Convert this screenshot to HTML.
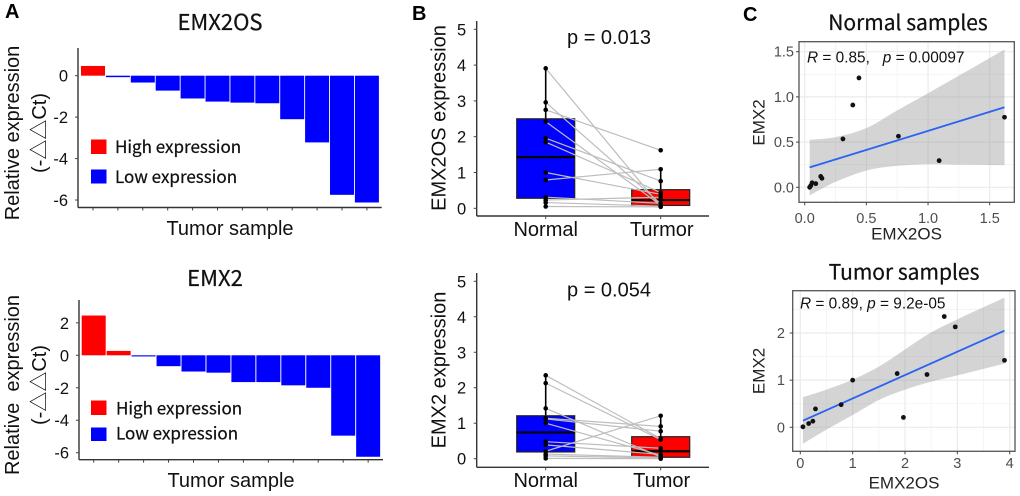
<!DOCTYPE html>
<html lang="en">
<head>
<meta charset="utf-8">
<title>EMX2OS and EMX2 expression</title>
<style>
html,body{margin:0;padding:0;background:#fff;width:1020px;height:496px;overflow:hidden}
svg{display:block;filter:blur(0.35px)}
text{font-family:"Liberation Sans","Noto Sans CJK SC",sans-serif;fill:#111}
.hd{font-family:"Noto Sans CJK SC","Liberation Sans",sans-serif;stroke:#111;stroke-width:0.25px}
.panel-letter{font-family:"Liberation Sans",sans-serif;font-weight:700;font-size:20px;fill:#000}
.title{font-size:22px;text-anchor:middle}
.leg{font-size:17px}
.lab{font-size:20px;text-anchor:middle}
.clab{font-size:17px;text-anchor:middle;fill:#222}
.ann{font-size:15.4px;fill:#111}
</style>
</head>
<body>
<svg id="fig" xmlns="http://www.w3.org/2000/svg" width="1020" height="496" viewBox="0 0 1020 496">
  <rect x="0" y="0" width="1020" height="496" fill="#fff"/>
  <g id="layer"></g>

  <text class="panel-letter" x="5" y="18">A</text>
  <text class="panel-letter" x="412" y="20">B</text>
  <text class="panel-letter" x="743" y="21">C</text>

  <text class="hd title" x="220" y="30">EMX2OS</text>
  <text class="lab" transform="translate(19,133) rotate(-90)">Relative expression</text>
  <text class="lab" transform="translate(46,133) rotate(-90)">(-△△Ct)</text>
  <text class="lab" x="230" y="235">Tumor sample</text>
  <rect x="91" y="139.5" width="15.5" height="14.5" fill="#ff0000"/>
  <rect x="91" y="169.5" width="15.5" height="14" fill="#0000ff"/>
  <text class="hd leg" x="115" y="153">High expression</text>
  <text class="hd leg" x="115" y="183">Low expression</text>

  <text class="hd title" x="215" y="286">EMX2</text>
  <text class="lab" xml:space="preserve" transform="translate(19,385) rotate(-90)">Relative  expression</text>
  <text class="lab" transform="translate(46,385) rotate(-90)">(-△△Ct)</text>
  <text class="lab" x="231" y="487">Tumor sample</text>
  <rect x="91" y="400.5" width="15.5" height="14.5" fill="#ff0000"/>
  <rect x="91" y="427.5" width="15.5" height="13.5" fill="#0000ff"/>
  <text class="hd leg" x="116" y="414.5">High expression</text>
  <text class="hd leg" x="116" y="439.5">Low expression</text>

  <text class="lab" transform="translate(445.5,118) rotate(-90)">EMX2OS expression</text>
  <text class="lab" x="609" y="44">p = 0.013</text>
  <text class="lab" transform="translate(445.5,370) rotate(-90)">EMX2 expression</text>
  <text class="lab" x="609" y="296.5">p = 0.054</text>

  <text class="hd title" x="908" y="30" style="font-size:21px">Normal samples</text>
  <text class="clab" x="906.5" y="239.5">EMX2OS</text>
  <text class="clab" transform="translate(764.5,122.5) rotate(-90)">EMX2</text>
  <text class="ann" x="807" y="62.5" xml:space="preserve"><tspan font-style="italic">R</tspan> = 0.85,   <tspan font-style="italic">p</tspan> = 0.00097</text>

  <text class="hd title" x="904" y="279.5" style="font-size:21px">Tumor samples</text>
  <text class="clab" x="904" y="488.5">EMX2OS</text>
  <text class="clab" transform="translate(764.5,371) rotate(-90)">EMX2</text>
  <text class="ann" x="800" y="308.5"><tspan font-style="italic">R</tspan> = 0.89, <tspan font-style="italic">p</tspan> = 9.2e-05</text>
</svg>

<script>
// ---- Panel A: waterfall values
const emx2osBarValues = [0.47, -0.07, -0.33, -0.72, -1.1, -1.25, -1.3, -1.33, -2.1, -3.22, -5.75, -6.12];
const emx2BarValues = [2.45, 0.27, -0.07, -0.67, -1.0, -1.07, -1.65, -1.65, -1.85, -2.0, -4.95, -6.25];
const emx2osBarTicks = [0, -2, -4, -6];
const emx2BarTicks = [2, 0, -2, -4, -6];

// ---- Panel B: paired box plots
const emx2osNormal = [3.91, 2.96, 2.75, 2.42, 1.96, 1.85, 1.0, 0.79, 0.31, 0.23, 0.16, 0.05];
const emx2osTumor = [0.05, 0.13, 1.62, 0.09, 0.76, 0.44, 0.39, 1.09, 0.14, 0.31, 0.06, 0.04];
const emx2Normal = [2.35, 2.13, 1.42, 1.14, 1.12, 1.0, 0.48, 0.39, 0.21, 0.13, 0.08, 0.01];
const emx2Tumor = [0.565, 0.535, 0.05, 0.91, 0.775, 0.1, 0.295, 0.12, 1.21, 0.04, 0.02, 0.0];
const emx2osNormalBox = [0.28, 1.43, 2.5];
const emx2osTumorBox = [0.08, 0.23, 0.52];
const emx2NormalBox = [0.19, 0.74, 1.21];
const emx2TumorBox = [0.04, 0.21, 0.62];
const boxTicks = [0, 1, 2, 3, 4, 5];
const emx2osBoxCategories = ["Normal", "Turmor"];
const emx2BoxCategories = ["Normal", "Tumor"];

// ---- Panel C: normal samples scatter
const normalX = [0.04, 0.05, 0.06, 0.09, 0.13, 0.14, 0.31, 0.39, 0.44, 0.76, 1.09, 1.62];
const normalY = [0.0, 0.02, 0.05, 0.04, 0.12, 0.1, 0.535, 0.91, 1.21, 0.565, 0.295, 0.775];
const normalFitX = [0.04, 1.62];
const normalFitY = [0.22, 0.885];
const normalBandX = [0.04, 0.25, 0.5, 0.73, 1.0, 1.27, 1.62];
const normalBandUpper = [0.525, 0.555, 0.655, 0.835, 1.04, 1.25, 1.525];
const normalBandLower = [-0.09, 0.06, 0.185, 0.235, 0.255, 0.25, 0.245];
const normalTicks = [0, 0.5, 1, 1.5];
const normalTickLabels = ["0.0", "0.5", "1.0", "1.5"];
const normalMinorX = [0.25, 0.75, 1.25];
const normalMinorY = [0.25, 0.75, 1.25];

// ---- Panel C: tumor samples scatter
const tumorX = [0.05, 0.16, 0.24, 0.29, 0.78, 1.0, 1.85, 1.97, 2.42, 2.75, 2.96, 3.9];
const tumorY = [0.01, 0.08, 0.13, 0.39, 0.48, 1.0, 1.14, 0.21, 1.12, 2.35, 2.13, 1.42];
const tumorFitX = [0.05, 3.9];
const tumorFitY = [0.14, 2.05];
const tumorBandX = [0.05, 0.5, 1.0, 1.52, 2.0, 2.48, 3.0, 3.9];
const tumorBandUpper = [0.64, 0.8, 1.01, 1.3, 1.65, 2.0, 2.29, 2.75];
const tumorBandLower = [-0.35, -0.05, 0.26, 0.59, 0.8, 0.96, 1.1, 1.35];
const tumorTicksX = [0, 1, 2, 3, 4];
const tumorTicksY = [0, 1, 2];
const tumorMinorX = [0.5, 1.5, 2.5, 3.5];
const tumorMinorY = [-0.5, 0.5, 1.5, 2.5];

const NS = "http://www.w3.org/2000/svg";
const layer = document.getElementById("layer");

function svgEl(tag, attrs, parent) {
  const el = document.createElementNS(NS, tag);
  for (const k in attrs) el.setAttribute(k, attrs[k]);
  parent.appendChild(el);
  return el;
}
function linear(v0, p0, v1, p1) {
  return function (v) { return p0 + (v - v0) * (p1 - p0) / (v1 - v0); };
}
function rule(parent, x1, y1, x2, y2, color, w, name) {
  const l = svgEl("line", { x1: x1, y1: y1, x2: x2, y2: y2, stroke: color, "stroke-width": w }, parent);
  
  
  return l;
}
function label(parent, x, y, str, anchor, size, color, name) {
  const t = svgEl("text", { x: x, y: y, "text-anchor": anchor, style: "font-size:" + size + "px;fill:" + color }, parent);
  t.textContent = str;
  
  
  return t;
}
function group(name) {
  const g = svgEl("g", {}, layer);
  
  
  return g;
}
// Catmull-Rom segments through a list of [x, y] screen points.
function curveThrough(pts, start) {
  let d = start + pts[0][0] + " " + pts[0][1];
  for (let i = 0; i < pts.length - 1; i++) {
    const p0 = pts[Math.max(i - 1, 0)], p1 = pts[i], p2 = pts[i + 1], p3 = pts[Math.min(i + 2, pts.length - 1)];
    d += " C" + (p1[0] + (p2[0] - p0[0]) / 6) + " " + (p1[1] + (p2[1] - p0[1]) / 6) + " " +
      (p2[0] - (p3[0] - p1[0]) / 6) + " " + (p2[1] - (p3[1] - p1[1]) / 6) + " " + p2[0] + " " + p2[1];
  }
  return d;
}

// ---- waterfall chart
function drawBars(name, values, ticks, yScale, firstX, stepX, barW, axisX, axisTop, axisBottom, axisRight) {
  const g = group(name);
  values.forEach(function (v, i) {
    const x = firstX + i * stepX;
    const top = Math.min(yScale(0), yScale(v));
    const h = Math.abs(yScale(v) - yScale(0));
    const r = svgEl("rect", { x: x, y: top, width: barW, height: h, fill: v >= 0 ? "#ff0000" : "#0000ff" }, g);
    
    
    rule(g, x + barW / 2, axisBottom, x + barW / 2, axisBottom + 3, "#444", 1, "x-tick");
  });
  rule(g, axisX, axisTop, axisX, axisBottom, "#333", 1.4, "y-axis");
  rule(g, axisX, axisBottom, axisRight, axisBottom, "#333", 1.4, "x-axis");
  ticks.forEach(function (t) {
    rule(g, axisX - 3, yScale(t), axisX, yScale(t), "#444", 1, "y-tick");
    label(g, axisX - 10, yScale(t) + 6, String(t), "end", 16.5, "#111", "y-tick-label");
  });
}

// ---- paired box chart
function drawBox(name, normal, tumor, normalBox, tumorBox, ticks, cats, yScale, axisTop, axisBottom, catBaseline) {
  const g = group(name);
  const axisX = 476.7, axisRight = 709, xA = 545.7, xB = 660.7, half = 29;
  rule(g, axisX, axisTop, axisX, axisBottom, "#333", 1.4, "y-axis");
  rule(g, axisX, axisBottom, axisRight, axisBottom, "#333", 1.4, "x-axis");
  ticks.forEach(function (t) {
    rule(g, axisX - 3, yScale(t), axisX, yScale(t), "#444", 1, "y-tick");
    label(g, axisX - 10.5, yScale(t) + 6, String(t), "end", 16.5, "#111", "y-tick-label");
  });
  [xA, xB].forEach(function (cx, i) {
    const vals = i === 0 ? normal : tumor;
    const box = i === 0 ? normalBox : tumorBox;
    const upperFence = box[2] + 1.5 * (box[2] - box[0]);
    const inFence = vals.filter(function (v) { return v <= upperFence; });
    rule(g, cx, axisBottom, cx, axisBottom + 3, "#444", 1, "x-tick");
    rule(g, cx, yScale(Math.min.apply(null, vals)), cx, yScale(Math.max.apply(null, inFence)), "#000", 1.6, "whisker");
    const r = svgEl("rect", {
      x: cx - half, y: yScale(box[2]), width: half * 2, height: yScale(box[0]) - yScale(box[2]),
      fill: i === 0 ? "#0000ff" : "#ff0000", stroke: "#222", "stroke-width": 1.2
    }, g);
    
    
    rule(g, cx - half, yScale(box[1]), cx + half, yScale(box[1]), "#000", 2.2, "median-line");
    label(g, cx + (i === 0 ? 0 : 1), catBaseline, cats[i], "middle", 20, "#111", "category-label");
  });
  normal.forEach(function (v, i) {
    rule(g, xA, yScale(v), xB, yScale(tumor[i]), "#bdbdbd", 1.2, "paired-line");
  });
  [xA, xB].forEach(function (cx, i) {
    (i === 0 ? normal : tumor).forEach(function (v) {
      const c = svgEl("circle", { cx: cx, cy: yScale(v), r: 2.3, fill: "#000" }, g);
      
      
    });
  });
}

// ---- scatter chart
function drawScatter(name, xs, ys, fitX, fitY, bandX, bandUp, bandLow, xTicks, xLabels, yTicks, yLabels, minorX, minorY, sx, sy, box, xBase, yLabelRight) {
  const g = group(name);
  const left = box[0], top = box[1], right = box[2], bottom = box[3];
  minorX.forEach(function (v) { rule(g, sx(v), top, sx(v), bottom, "#f3f3f3", 0.8, "minor-gridline"); });
  minorY.forEach(function (v) { rule(g, left, sy(v), right, sy(v), "#f3f3f3", 0.8, "minor-gridline"); });
  xTicks.forEach(function (v) { rule(g, sx(v), top, sx(v), bottom, "#ebebeb", 1.2, "major-gridline"); });
  yTicks.forEach(function (v) { rule(g, left, sy(v), right, sy(v), "#ebebeb", 1.2, "major-gridline"); });
  const upperPts = bandX.map(function (x, i) { return [sx(x), sy(bandUp[i])]; });
  const lowerPts = bandX.map(function (x, i) { return [sx(x), sy(bandLow[i])]; }).reverse();
  const bandPath = curveThrough(upperPts, "M") + " " + curveThrough(lowerPts, "L") + " Z";
  const band = svgEl("path", { d: bandPath, fill: "#999999", "fill-opacity": 0.42 }, g);
  
  
  rule(g, sx(fitX[0]), sy(fitY[0]), sx(fitX[1]), sy(fitY[1]), "#2a62f2", 1.8, "regression-line");
  xs.forEach(function (x, i) {
    const c = svgEl("circle", { cx: sx(x), cy: sy(ys[i]), r: 2.4, fill: "#111" }, g);
    
    
  });
  const frame = svgEl("rect", { x: left, y: top, width: right - left, height: bottom - top, fill: "none", stroke: "#555", "stroke-width": 1.3 }, g);
  
  
  xTicks.forEach(function (v, i) {
    rule(g, sx(v), bottom, sx(v), bottom + 3, "#444", 1, "x-tick");
    label(g, sx(v), xBase, xLabels[i], "middle", 14.5, "#4d4d4d", "x-tick-label");
  });
  yTicks.forEach(function (v, i) {
    rule(g, left - 3, sy(v), left, sy(v), "#444", 1, "y-tick");
    label(g, yLabelRight, sy(v) + 5, yLabels[i], "end", 14.5, "#4d4d4d", "y-tick-label");
  });
}

drawBars("emx2os-waterfall-chart", emx2osBarValues, emx2osBarTicks, linear(0, 75.7, -6, 200), 81, 24.9, 24, 78, 48, 207.5, 381.7);
drawBars("emx2-waterfall-chart", emx2BarValues, emx2BarTicks, linear(0, 355.3, -6, 452.7), 81.7, 24.95, 24, 79, 300, 459.7, 383);

drawBox("emx2os-box-chart", emx2osNormal, emx2osTumor, emx2osNormalBox, emx2osTumorBox, boxTicks, emx2osBoxCategories, linear(0, 208.3, 5, 29.3), 21, 216, 236);
drawBox("emx2-box-chart", emx2Normal, emx2Tumor, emx2NormalBox, emx2TumorBox, boxTicks, emx2BoxCategories, linear(0, 458.7, 5, 281.3), 273, 467.3, 487);

drawScatter("normal-samples-scatter", normalX, normalY, normalFitX, normalFitY, normalBandX, normalBandUpper, normalBandLower,
  normalTicks, normalTickLabels, normalTicks, normalTickLabels, normalMinorX, normalMinorY,
  linear(0, 804.7, 1.5, 989.7), linear(0, 187.3, 1.5, 51.7), [799, 41.7, 1014.3, 202.3], 223, 794);
drawScatter("tumor-samples-scatter", tumorX, tumorY, tumorFitX, tumorFitY, tumorBandX, tumorBandUpper, tumorBandLower,
  tumorTicksX, tumorTicksX.map(String), tumorTicksY, tumorTicksY.map(String), tumorMinorX, tumorMinorY,
  linear(0, 800.3, 4, 1009.7), linear(0, 427.3, 2, 333), [792.7, 290.7, 1015, 451.3], 468, 785);
</script>
</body>
</html>
